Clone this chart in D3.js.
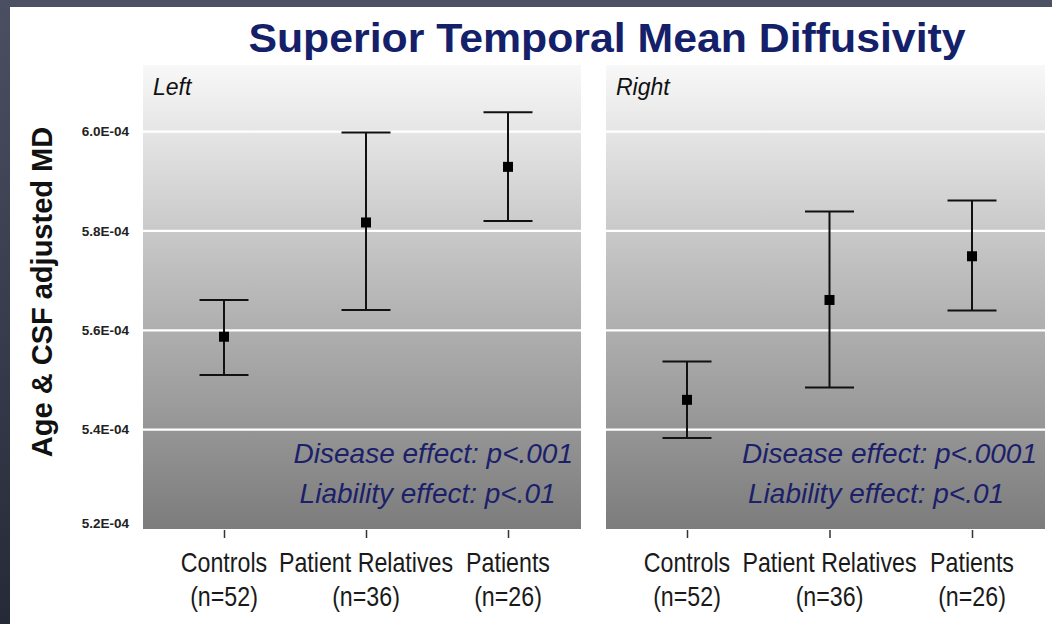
<!DOCTYPE html>
<html lang="en">
<head>
<meta charset="utf-8">
<title>Superior Temporal Mean Diffusivity</title>
<script src="https://cdnjs.cloudflare.com/ajax/libs/d3/7.8.5/d3.min.js"></script>
<style>
  body { margin: 0; background: #fff; }
  svg { display: block; }
</style>
</head>
<body>
<div id="chart"></div>
<script>
// values in units of 1E-04
var groups = ["Controls", "Patient Relatives", "Patients"];
var groupN = ["(n=52)", "(n=36)", "(n=26)"];
var sides = ["Left", "Right"];
var leftMean  = [5.587, 5.817, 5.929];
var leftLow   = [5.510, 5.641, 5.820];
var leftHigh  = [5.661, 5.998, 6.039];
var rightMean = [5.460, 5.661, 5.749];
var rightLow  = [5.383, 5.485, 5.640];
var rightHigh = [5.537, 5.839, 5.861];
var yTicks = [5.2, 5.4, 5.6, 5.8, 6.0];
var diseaseP = ["Disease effect: p<.001", "Disease effect: p<.0001"];
var liabilityP = ["Liability effect: p<.01", "Liability effect: p<.01"];

var width = 1052, height = 624;
var svg = d3.select("#chart").append("svg").attr("width", width).attr("height", height);

// dark frame
var defs = svg.append("defs");
var frame = defs.append("linearGradient").attr("id", "frame").attr("x1", 0).attr("y1", 0).attr("x2", 0).attr("y2", 1);
frame.append("stop").attr("offset", "0%").attr("stop-color", "#4b4f62");
frame.append("stop").attr("offset", "100%").attr("stop-color", "#262a38");
svg.append("rect").attr("x", 0).attr("y", 0).attr("width", width).attr("height", 7).attr("fill", "#4d5164");
svg.append("rect").attr("x", 0).attr("y", 0).attr("width", 10).attr("height", height).attr("fill", "url(#frame)");

var panelGrad = defs.append("linearGradient").attr("id", "panel").attr("x1", 0).attr("y1", 0).attr("x2", 0).attr("y2", 1);
panelGrad.append("stop").attr("offset", "0%").attr("stop-color", "#f8f8f8");
panelGrad.append("stop").attr("offset", "45%").attr("stop-color", "#bdbdbd");
panelGrad.append("stop").attr("offset", "100%").attr("stop-color", "#7c7c7c");

var plotTop = 65, plotBottom = 529;
var y = d3.scaleLinear().domain([5.2, 6.134]).range([plotBottom, plotTop]);

var panels = [
  { x0: 143, x1: 581, mean: leftMean, low: leftLow, high: leftHigh },
  { x0: 606, x1: 1045, mean: rightMean, low: rightLow, high: rightHigh }
];

svg.append("g").attr("transform", "translate(607,52) scale(1.07,1)")
  .append("text")
  .attr("text-anchor", "middle")
  .attr("font-family", "Liberation Sans, Arial, sans-serif")
  .attr("font-weight", "bold").attr("font-size", "40px")
  .attr("fill", "#15206a")
  .text("Superior Temporal Mean Diffusivity");

svg.append("text")
  .attr("transform", "translate(52,292) rotate(-90)")
  .attr("text-anchor", "middle")
  .attr("font-family", "Liberation Sans, Arial, sans-serif")
  .attr("font-weight", "bold").attr("font-size", "29px")
  .attr("fill", "#111")
  .text("Age & CSF adjusted MD");

// y tick labels
svg.append("g").attr("transform", "translate(129,0)")
  .call(d3.axisLeft(y).tickValues(yTicks).tickSize(0).tickPadding(0)
    .tickFormat(function(d) { return d3.format(".1f")(d) + "E-04"; }))
  .call(function(g) {
    g.select(".domain").remove();
    g.selectAll("text")
      .attr("font-family", "Liberation Sans, Arial, sans-serif")
      .attr("font-weight", "bold").attr("font-size", "13.5px")
      .attr("fill", "#222")
      .attr("dy", function(d) { return d === 5.2 ? "-0.1em" : "0.32em"; });
  });

panels.forEach(function(p, k) {
  var x = d3.scalePoint().domain(groups).range([p.x0 + 81, p.x1 - 73]);
  var g = svg.append("g");

  g.append("rect").attr("x", p.x0).attr("y", plotTop)
    .attr("width", p.x1 - p.x0).attr("height", plotBottom - plotTop)
    .attr("fill", "url(#panel)");

  g.selectAll("line.grid").data(yTicks.filter(function(d) { return d > 5.2; })).enter()
    .append("line").attr("class", "grid")
    .attr("x1", p.x0).attr("x2", p.x1)
    .attr("y1", function(d) { return y(d); }).attr("y2", function(d) { return y(d); })
    .attr("stroke", "#fff").attr("stroke-width", 2.2);

  g.append("text").attr("x", p.x0 + 10).attr("y", 95)
    .attr("font-family", "Liberation Sans, Arial, sans-serif")
    .attr("font-style", "italic").attr("font-size", "23px").attr("fill", "#111")
    .text(sides[k]);

  // x axis ticks and labels
  var ax = svg.append("g").attr("transform", "translate(0," + (plotBottom + 1) + ")")
    .call(d3.axisBottom(x).tickSize(8).tickFormat(""));
  ax.select(".domain").remove();
  ax.selectAll("line").attr("stroke", "#333").attr("stroke-width", 1.5);

  groups.forEach(function(name, i) {
    var lab = svg.append("g").attr("transform", "translate(" + x(name) + ",0) scale(0.86,1)");
    var t = lab.append("text").attr("text-anchor", "middle")
      .attr("font-family", "Liberation Sans, Arial, sans-serif")
      .attr("font-size", "27px").attr("fill", "#1a1a1a");
    t.append("tspan").attr("x", 0).attr("y", 572).text(name);
    t.append("tspan").attr("x", 0).attr("y", 606).text(groupN[i]);
  });

  var data = groups.map(function(name, i) {
    return { name: name, mean: p.mean[i], low: p.low[i], high: p.high[i] };
  });

  var eb = g.selectAll("g.eb").data(data).enter().append("g").attr("class", "eb");
  eb.append("line")
    .attr("x1", function(d) { return x(d.name); }).attr("x2", function(d) { return x(d.name); })
    .attr("y1", function(d) { return y(d.high); }).attr("y2", function(d) { return y(d.low); })
    .attr("stroke", "#111").attr("stroke-width", 2);
  ["high", "low"].forEach(function(key) {
    eb.append("line")
      .attr("x1", function(d) { return x(d.name) - 24.5; }).attr("x2", function(d) { return x(d.name) + 24.5; })
      .attr("y1", function(d) { return y(d[key]); }).attr("y2", function(d) { return y(d[key]); })
      .attr("stroke", "#111").attr("stroke-width", 2);
  });
  eb.append("rect")
    .attr("x", function(d) { return x(d.name) - 5; })
    .attr("y", function(d) { return y(d.mean) - 5; })
    .attr("width", 10).attr("height", 10).attr("fill", "#000");

  var l1 = g.append("text").attr("x", p.x1 - 8).attr("y", 463)
    .attr("text-anchor", "end")
    .attr("font-family", "Liberation Sans, Arial, sans-serif")
    .attr("font-style", "italic").attr("font-size", "28px").attr("fill", "#1c1f6a")
    .text(diseaseP[k]);
  var bb = l1.node().getBBox();
  g.append("text").attr("x", bb.x + 6).attr("y", 503)
    .attr("font-family", "Liberation Sans, Arial, sans-serif")
    .attr("font-style", "italic").attr("font-size", "28px").attr("fill", "#1c1f6a")
    .text(liabilityP[k]);
});
</script>
</body>
</html>
